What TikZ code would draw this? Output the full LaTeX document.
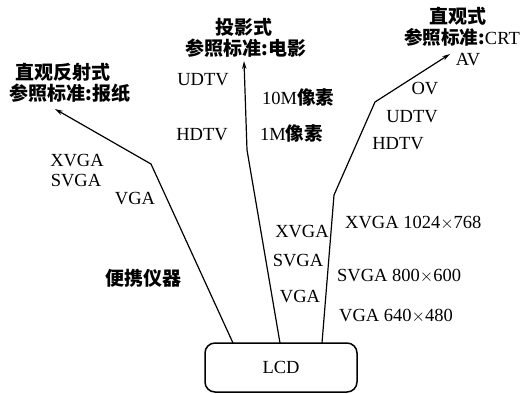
\documentclass[tikz,border=0pt]{standalone}
\usepackage{fontspec}
\setmainfont{Liberation Serif}
\newfontfamily\cjk{Noto Sans CJK SC}
\usetikzlibrary{arrows.meta}
\begin{document}
\begin{tikzpicture}[x=1pt,y=-1pt,
  lbl/.style={inner sep=0pt,font=\fontsize{18.5}{20}\selectfont},
  zh/.style={inner sep=0pt,font=\fontsize{19}{21}\selectfont\cjk\bfseries},
  conn/.style={line width=1.2pt,-{Stealth[length=8pt,width=4.5pt]}},
  lcdbox/.style={draw,line width=1.5pt,rounded corners=10pt,minimum width=152pt,minimum height=49pt,inner sep=0pt,font=\fontsize{18.5}{20}\selectfont}]
\useasboundingbox (0,0) rectangle (520,394);
\node[lcdbox] (lcd) at (281,367.5) {LCD};
% coordinates
\coordinate (lb) at (233,343);
\coordinate (lk) at (151,164);
\coordinate (lt) at (55,109);
\coordinate (mb) at (280,343);
\coordinate (mk) at (247,150);
\coordinate (mt) at (244,61);
\coordinate (rb) at (322,343);
\coordinate (rk1) at (334,195);
\coordinate (rk2) at (375,102);
\coordinate (rt) at (450,54);
\draw[conn] (lb) -- (lk) -- (lt);
\draw[conn] (mb) -- (mk) -- (mt);
\draw[conn] (rb) -- (rk1) -- (rk2) -- (rt);
% left branch
\node[zh] (t1a) at (63,72) {直观反射式};
\node[zh] (t1b) at (70,93) {参照标准:报纸};
\node[lbl] (l1) at (77,161) {XVGA};
\node[lbl] (l2) at (76,181) {SVGA};
\node[lbl] (l3) at (135,199) {VGA};
\node[zh] (pi) at (143,278) {便携仪器};
% middle branch
\node[zh] (t2a) at (244,27) {投影式};
\node[zh] (t2b) at (246,48) {参照标准:电影};
\node[lbl] (m1) at (203,80) {UDTV};
\node[lbl] (m2) at (202,135) {HDTV};
\node[lbl,anchor=west] (m3) at (262,97) {10M{\cjk\bfseries 像素}};
\node[lbl,anchor=west] (m4) at (260,133) {1M{\cjk\bfseries 像素}};
\node[lbl] (m5) at (302,232) {XVGA};
\node[lbl] (m6) at (298,261) {SVGA};
\node[lbl] (m7) at (300,297) {VGA};
% right branch
\node[zh] (t3a) at (458,16) {直观式};
\node[lbl,anchor=east] (t3b) at (520,37) {{\cjk\bfseries 参照标准:}CRT};
\node[lbl] (r1) at (468,60) {AV};
\node[lbl] (r2) at (425,89) {OV};
\node[lbl] (r3) at (412,117) {UDTV};
\node[lbl] (r4) at (398,144) {HDTV};
\node[lbl,anchor=west] (r5) at (345,223) {XVGA 1024$\times$768};
\node[lbl,anchor=west] (r6) at (337,276) {SVGA 800$\times$600};
\node[lbl,anchor=west] (r7) at (339,316) {VGA 640$\times$480};
\end{tikzpicture}
\end{document}
